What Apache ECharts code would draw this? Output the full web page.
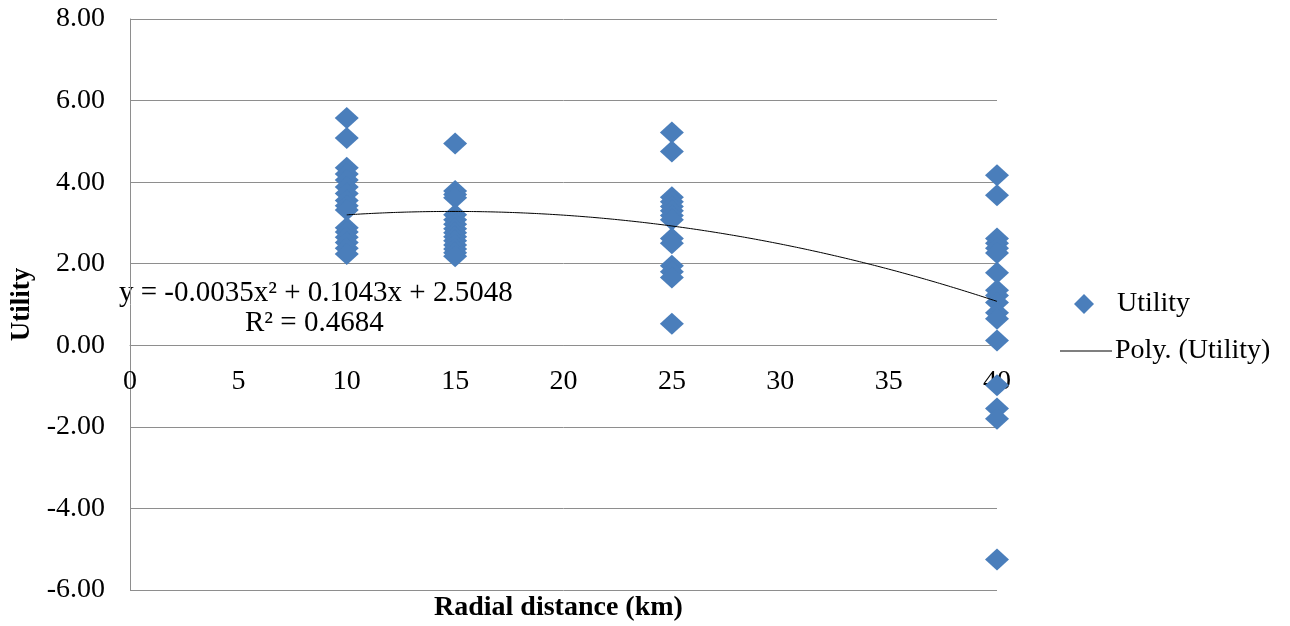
<!DOCTYPE html>
<html>
<head>
<meta charset="utf-8">
<title>Utility vs radial distance</title>
<script src="https://cdn.jsdelivr.net/npm/echarts@6/dist/echarts.min.js"></script>
<style>
  html, body { margin: 0; padding: 0; background: #ffffff; }
  #chart { width: 1290px; height: 626px; }
</style>
</head>
<body>
<div id="chart"></div>
<script>
// Radial distances (km) at which utility was observed
const distances = [10, 15, 25, 40];

// Utility observations for each radial distance
const utility10 = [5.57, 5.08, 4.35, 4.2, 4.05, 3.88, 3.72, 3.55, 3.42, 3.32, 2.88, 2.78, 2.65, 2.52, 2.38, 2.24];
const utility15 = [4.95, 3.78, 3.7, 3.62, 3.2, 3.08, 2.97, 2.86, 2.76, 2.66, 2.56, 2.46, 2.36, 2.27, 2.18];
const utility25 = [5.22, 4.75, 3.63, 3.52, 3.4, 3.3, 3.18, 3.08, 2.62, 2.5, 1.95, 1.8, 1.66, 0.53];
const utility40 = [4.17, 3.68, 2.62, 2.5, 2.38, 2.26, 1.78, 1.35, 1.22, 1.05, 0.8, 0.65, 0.12, -0.98, -1.55, -1.8, -5.25];

// Second-order polynomial trendline: y = a*x^2 + b*x + c
const trendCoefficients = [-0.0035, 0.1043, 2.5048];
const trendRSquared = 0.4684;
const trendRange = [10, 40];

// Axis ticks
const xTicks = [0, 5, 10, 15, 20, 25, 30, 35, 40];
const yTicks = [-6, -4, -2, 0, 2, 4, 6, 8];

const utilityByDistance = [utility10, utility15, utility25, utility40];
const scatterData = [];
distances.forEach((d, i) => {
  utilityByDistance[i].forEach(v => scatterData.push([d, v]));
});

const [a, b, c] = trendCoefficients;
const trendData = [];
for (let x = trendRange[0]; x <= trendRange[1] + 1e-9; x += 0.5) {
  trendData.push([x, a * x * x + b * x + c]);
}

const serif = "'Liberation Serif', 'Times New Roman', serif";
const gridColor = '#8e8e8e';
const markerColor = '#4a7ebb';
const fontSize = 28;

// Plot rectangle
const gridBox = { left: 130, right: 293, top: 19, bottom: 36 };
const plotHeight = 626 - gridBox.top - gridBox.bottom;
const yMin = yTicks[0];
const yMax = yTicks[yTicks.length - 1];
// The horizontal axis crosses the vertical axis at y = 0
const xAxisOffset = -plotHeight * (0 - yMin) / (yMax - yMin);

const fmtCoef = v => (v < 0 ? '-' : '') + Math.abs(v).toFixed(4);
const equationText = 'y = ' + fmtCoef(a) + 'x\u00B2 + ' + b.toFixed(4) + 'x + ' + c.toFixed(4);
const rSquaredText = 'R\u00B2 = ' + trendRSquared.toFixed(4);

const chart = echarts.init(document.getElementById('chart'));
chart.setOption({
  animation: false,
  backgroundColor: '#ffffff',
  grid: Object.assign({ containLabel: false }, gridBox),
  xAxis: {
    type: 'value',
    min: xTicks[0],
    max: xTicks[xTicks.length - 1],
    interval: 5,
    position: 'bottom',
    offset: xAxisOffset,
    axisLine: { show: true, onZero: false, lineStyle: { color: gridColor, width: 1 } },
    axisTick: { show: false },
    splitLine: { show: false },
    axisLabel: { color: '#000', fontFamily: serif, fontSize: fontSize, margin: 22 }
  },
  yAxis: {
    type: 'value',
    min: yMin,
    max: yMax,
    interval: 2,
    name: 'Utility',
    nameLocation: 'middle',
    nameRotate: 90,
    nameGap: 88,
    nameTextStyle: { color: '#000', fontFamily: serif, fontSize: 27, fontWeight: 'bold' },
    axisLine: { show: true, lineStyle: { color: gridColor, width: 1 } },
    axisTick: { show: false },
    splitLine: { show: true, lineStyle: { color: gridColor, width: 1 } },
    axisLabel: {
      color: '#000', fontFamily: serif, fontSize: fontSize, margin: 25,
      formatter: v => v.toFixed(2)
    }
  },
  legend: [
    {
      data: [{ name: 'Utility', icon: 'diamond' }],
      left: 1069, top: 285,
      itemWidth: 20, itemHeight: 20,
      textStyle: { color: '#000', fontFamily: serif, fontSize: fontSize, padding: [0, 0, 0, 18] },
      selectedMode: false
    },
    {
      data: [{ name: 'Poly. (Utility)', icon: 'path://M0,0 L52,0 L52,1 L0,1 Z' }],
      left: 1055, top: 332,
      itemWidth: 52, itemHeight: 1.2,
      textStyle: { color: '#000', fontFamily: serif, fontSize: fontSize, padding: [0, 0, 0, -2] },
      selectedMode: false
    }
  ],
  graphic: [
    {
      type: 'text', left: 119, top: 279,
      style: { text: equationText, font: '29px ' + serif, fill: '#000' }
    },
    {
      type: 'text', left: 245, top: 309,
      style: { text: rSquaredText, font: '29px ' + serif, fill: '#000' }
    },
    {
      type: 'text', left: 434, top: 594,
      style: { text: 'Radial distance (km)', font: 'bold 28px ' + serif, fill: '#000' }
    }
  ],
  series: [
    {
      name: 'Utility',
      type: 'scatter',
      symbol: 'diamond',
      symbolSize: [24, 22],
      itemStyle: { color: markerColor, opacity: 1 },
      data: scatterData,
      z: 2
    },
    {
      name: 'Poly. (Utility)',
      type: 'line',
      smooth: true,
      showSymbol: false,
      symbol: 'none',
      lineStyle: { color: '#000', width: 1 },
      itemStyle: { color: '#000' },
      data: trendData,
      z: 3
    }
  ]
});
</script>
</body>
</html>
